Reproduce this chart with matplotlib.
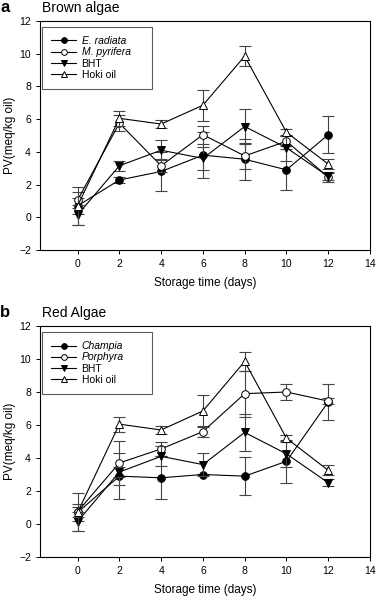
import numpy as np
import matplotlib
matplotlib.use('Agg')
import matplotlib.pyplot as plt

plt.rcParams['font.family'] = ['Liberation Sans', 'DejaVu Sans']

days = [0, 2, 4, 6, 8, 10, 12]

# Panel a - brown algae
erad = [0.7, 2.28, 2.8, 3.8, 3.55, 2.9, 5.05]
erad_err = [0.5, 0.2, 1.2, 1.4, 1.25, 1.25, 1.15]
mpyr = [1.05, 5.75, 3.15, 5.05, 3.75, 4.65, 2.45]
mpyr_err = [0.5, 0.5, 0.4, 0.55, 0.8, 0.3, 0.3]
bht = [0.15, 3.15, 4.1, 3.6, 5.55, 4.25, 2.5]
bht_err = [0.6, 0.3, 0.6, 0.7, 1.1, 0.8, 0.2]
hoki = [0.7, 6.05, 5.7, 6.85, 9.85, 5.2, 3.25]
hoki_err = [1.15, 0.45, 0.25, 0.95, 0.6, 0.2, 0.3]

# Panel b - red algae
champ = [0.7, 2.9, 2.8, 3.0, 2.9, 3.8, 7.4]
champ_err = [0.5, 1.4, 1.3, 0.05, 1.15, 1.3, 1.1]
porph = [0.75, 3.7, 4.55, 5.6, 7.9, 8.0, 7.45]
porph_err = [0.3, 1.35, 0.4, 0.35, 1.4, 0.5, 0.2]

fig = plt.figure(figsize=(3.77, 5.97), dpi=100)
W, H = 377, 597
axa = fig.add_axes([40 / W, 1 - 250 / H, 330 / W, 229 / H])
axb = fig.add_axes([40 / W, 1 - 557 / H, 330 / W, 231 / H])

def panel(ax, s1, e1, n1, s2, e2, n2, title, letter):
    series = [(s1, e1, 'o', 'black', n1),
              (s2, e2, 'o', 'white', n2),
              (bht, bht_err, 'v', 'black', 'BHT'),
              (hoki, hoki_err, '^', 'white', 'Hoki oil')]
    handles = []
    for y, e, m, fc, lab in series:
        ax.errorbar(days, y, yerr=e, fmt='none', ecolor='#444444',
                    elinewidth=0.8, capsize=4, capthick=0.8)
        h, = ax.plot(days, y, color='black', lw=0.8, marker=m, ms=5.5,
                     mfc=fc, mec='black', mew=0.7, label=lab)
        handles.append(h)
    ax.set_xlim(-1.8, 14)
    ax.set_ylim(-2, 12)
    ax.set_xticks(range(0, 15, 2))
    ax.set_yticks(range(-2, 13, 2))
    ax.tick_params(labelsize=7.5, length=3, width=0.7, top=False, right=False)
    for sp in ax.spines.values():
        sp.set_linewidth(0.8)
    ax.set_xlabel('Storage time (days)', fontsize=8.5, labelpad=6)
    ax.set_ylabel('PV(meq/kg oil)', fontsize=8.5, labelpad=2)
    leg = ax.legend(handles=handles, loc='upper left', fontsize=7.5, frameon=True,
                    fancybox=False, edgecolor='#333333', handlelength=2.4,
                    borderpad=0.9, labelspacing=0.12, handletextpad=0.5,
                    markerscale=0.75, borderaxespad=0, mode='expand',
                    bbox_to_anchor=(0.006, 0.70, 0.333, 0.275))
    leg.get_frame().set_linewidth(0.8)
    for t in leg.get_texts()[:2]:
        t.set_style('italic')
    ax.text(0.006, 1.025, title, transform=ax.transAxes, fontsize=10, va='bottom')
    ax.text(-0.12, 1.025, letter, transform=ax.transAxes, fontsize=12,
            fontweight='bold', va='bottom')

panel(axa, erad, erad_err, 'E. radiata', mpyr, mpyr_err, 'M. pyrifera', 'Brown algae', 'a')
panel(axb, champ, champ_err, 'Champia', porph, porph_err, 'Porphyra', 'Red Algae', 'b')

fig.savefig('out.png', dpi=100)
